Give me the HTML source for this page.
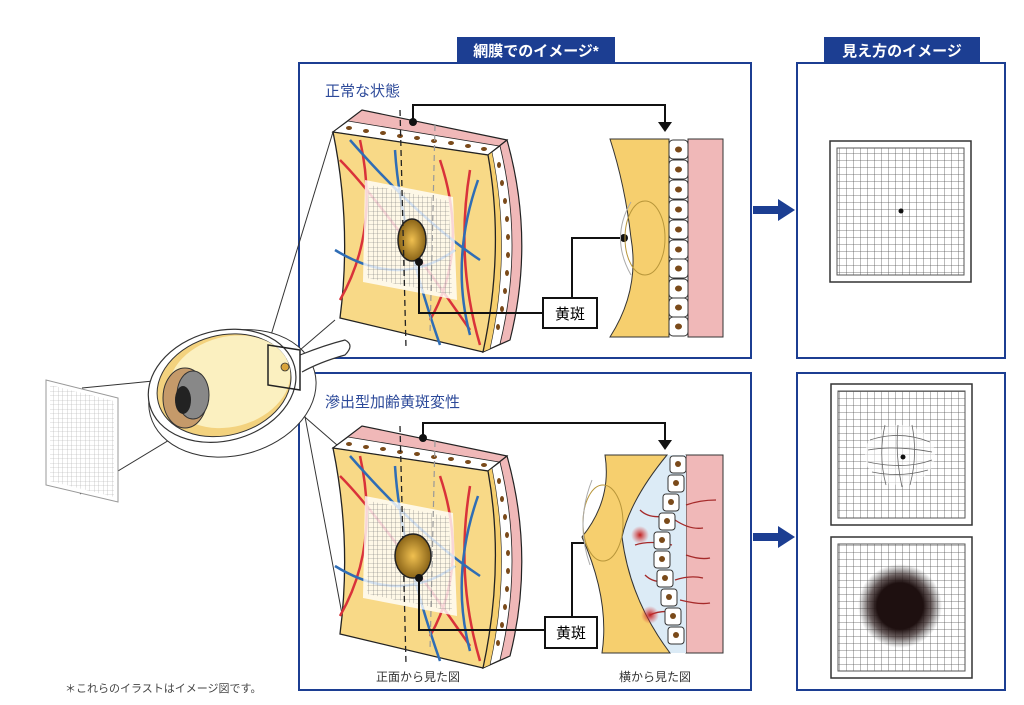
<!DOCTYPE html>
<html><head><meta charset="utf-8"><style>
html,body{margin:0;padding:0;background:#fff;width:1024px;height:705px;overflow:hidden}
svg{display:block}
text{font-family:"Liberation Sans","Noto Sans CJK JP",sans-serif}
</style></head><body>
<svg width="1024" height="705" viewBox="0 0 1024 705" xmlns="http://www.w3.org/2000/svg">
<defs>
<pattern id="g" width="7" height="7" patternUnits="userSpaceOnUse"><path d="M7 0V7M0 7H7" stroke="#555" stroke-width="0.8" fill="none"/></pattern>
<pattern id="gs" width="4.5" height="4.5" patternUnits="userSpaceOnUse"><path d="M4.5 0V4.5M0 4.5H4.5" stroke="#777" stroke-width="0.6" fill="none"/></pattern>
<radialGradient id="mac"><stop offset="0" stop-color="#f0c050"/><stop offset="1" stop-color="#8a6418"/></radialGradient>
<radialGradient id="blob"><stop offset="0.55" stop-color="#1e1010"/><stop offset="0.75" stop-color="#2a1a1a" stop-opacity="0.7"/><stop offset="1" stop-color="#333" stop-opacity="0"/></radialGradient>
<radialGradient id="bl"><stop offset="0" stop-color="#c02020"/><stop offset="1" stop-color="#e04040" stop-opacity="0"/></radialGradient>
<g id="block">
 <polygon points="333,132 362,110 507,140 488,155" fill="#f0b8b8" stroke="#222" stroke-width="1.2"/>
 <polygon points="333,132 348,121 499,146 488,155" fill="#fff" stroke="#222" stroke-width="0.8"/>
 <g fill="#7a4a1a">
  <ellipse cx="349" cy="128" rx="3" ry="2"/><ellipse cx="366" cy="131" rx="3" ry="2"/><ellipse cx="383" cy="133" rx="3" ry="2"/><ellipse cx="400" cy="136" rx="3" ry="2"/><ellipse cx="417" cy="138" rx="3" ry="2"/><ellipse cx="434" cy="141" rx="3" ry="2"/><ellipse cx="451" cy="143" rx="3" ry="2"/><ellipse cx="468" cy="146" rx="3" ry="2"/><ellipse cx="484" cy="149" rx="3" ry="2"/>
 </g>
 <path d="M488,155 L507,140 Q535,240 510,340 L483,352 Q505,250 488,155Z" fill="#f0b8b8" stroke="#222" stroke-width="1.2"/>
 <path d="M488,155 L500,146 Q524,245 500,344 L483,352 Q505,250 488,155Z" fill="#fff" stroke="#222" stroke-width="0.8"/>
 <path d="M488,155 L492,152 Q512,250 490,349 L483,352 Q505,250 488,155Z" fill="#f6cf6e" stroke="#222" stroke-width="0.6"/>
 <g fill="#7a4a1a">
  <ellipse cx="499" cy="165" rx="2" ry="3"/><ellipse cx="502" cy="183" rx="2" ry="3"/><ellipse cx="505" cy="201" rx="2" ry="3"/><ellipse cx="507" cy="219" rx="2" ry="3"/><ellipse cx="508" cy="237" rx="2" ry="3"/><ellipse cx="508" cy="255" rx="2" ry="3"/><ellipse cx="507" cy="273" rx="2" ry="3"/><ellipse cx="505" cy="291" rx="2" ry="3"/><ellipse cx="502" cy="309" rx="2" ry="3"/><ellipse cx="498" cy="327" rx="2" ry="3"/>
 </g>
 <path d="M333,132 L488,155 Q505,250 483,352 L340,318 Q352,225 333,132Z" fill="#f8d987" stroke="#222" stroke-width="1.3"/>
 <path d="M340,160 Q380,200 470,330 M360,140 Q380,230 340,300 M470,170 Q455,260 480,345 M440,160 Q470,250 430,320" stroke="#d9323a" stroke-width="2.5" fill="none"/>
 <path d="M350,140 Q420,220 480,260 M395,150 Q400,230 440,345 M478,180 Q450,260 470,335 M335,250 Q400,290 455,250" stroke="#2f6db5" stroke-width="2.5" fill="none"/>
 <polygon points="365,180 453,197 457,300 363,282" fill="#fff" opacity="0.8"/>
 <polygon points="369,185 449,201 452,295 367,278" fill="url(#gs)"/>
 <ellipse cx="412" cy="240" rx="14" ry="21" fill="url(#mac)" stroke="#222" stroke-width="1.5"/>
 <path d="M400,110 L406,348" stroke="#222" stroke-width="1.3" stroke-dasharray="6,4"/>
 <path d="M435,125 L430,335" stroke="#999" stroke-width="1.2" stroke-dasharray="6,4"/>
</g>
</defs>

<rect x="457" y="37" width="158" height="26" fill="#1c3e92"/>
<text x="536" y="56" fill="#fff" font-size="15" font-weight="bold" text-anchor="middle">網膜でのイメージ*</text>
<rect x="824" y="37" width="156" height="26" fill="#1c3e92"/>
<text x="902" y="56" fill="#fff" font-size="15" font-weight="bold" text-anchor="middle">見え方のイメージ</text>

<rect x="299" y="63" width="452" height="295" fill="none" stroke="#1c3e92" stroke-width="2"/>
<rect x="299" y="373" width="452" height="317" fill="none" stroke="#1c3e92" stroke-width="2"/>
<rect x="797" y="63" width="208" height="295" fill="none" stroke="#1c3e92" stroke-width="2"/>
<rect x="797" y="373" width="208" height="317" fill="none" stroke="#1c3e92" stroke-width="2"/>

<text x="325" y="96" fill="#2d4a9a" font-size="15">正常な状態</text>
<text x="325" y="407" fill="#2d4a9a" font-size="15">滲出型加齢黄斑変性</text>

<path d="M753,206 H778 V199 L795,210 L778,221 V214 H753Z" fill="#1c3e92"/>
<path d="M753,533 H778 V526 L795,537 L778,548 V541 H753Z" fill="#1c3e92"/>

<g stroke="#333" stroke-width="1" fill="none">
<line x1="268" y1="345" x2="333" y2="132"/>
<line x1="300" y1="350" x2="335" y2="320"/>
<line x1="268" y1="385" x2="337" y2="445"/>
<line x1="300" y1="390" x2="345" y2="630"/>
<line x1="82" y1="388" x2="285" y2="368"/>
<line x1="80" y1="494" x2="285" y2="370"/>
</g>

<polygon points="46,380 118,398 118,502 46,485" fill="#fff" stroke="#999" stroke-width="1"/>
<polygon points="50,385 114,401 114,497 50,481" fill="url(#gs)" opacity="0.6"/>

<g transform="rotate(-15 225 385)">
<ellipse cx="230" cy="395" rx="85" ry="62" fill="#fff" stroke="#333" stroke-width="1"/>
<ellipse cx="222" cy="385" rx="75" ry="55" fill="#fff" stroke="#333" stroke-width="1.2"/>
<ellipse cx="224" cy="385" rx="68" ry="50" fill="#f3d27e" stroke="#333" stroke-width="1"/>
<ellipse cx="230" cy="383" rx="62" ry="45" fill="#fbf0c0"/>
</g>
<path d="M300,355 Q325,345 345,340 Q355,345 345,355 Q320,362 302,372" fill="#fff" stroke="#333" stroke-width="1.2"/>
<ellipse cx="185" cy="398" rx="22" ry="30" fill="#c59a6a" stroke="#333"/>
<ellipse cx="193" cy="395" rx="16" ry="24" fill="#888" stroke="#333"/>
<ellipse cx="183" cy="400" rx="8" ry="14" fill="#222"/>
<polygon points="268,345 300,350 300,390 268,385" fill="none" stroke="#222" stroke-width="1.5"/>
<circle cx="285" cy="367" r="4" fill="#d9a43a" stroke="#333" stroke-width="0.8"/>

<use href="#block"/>
<use href="#block" transform="translate(0,316)"/>
<ellipse cx="413" cy="556" rx="18" ry="22" fill="url(#mac)" stroke="#222" stroke-width="1.5"/>

<g stroke="#111" stroke-width="2" fill="none">
<path d="M413,122 V105 H665 V122"/>
<path d="M419,262 V313 H543"/>
<path d="M572,298 V238 H624"/>
<path d="M423,438 V423 H665 V440"/>
<path d="M419,578 V630 H545"/>
<path d="M572,617 V543 H616"/>
</g>
<polygon points="658,122 672,122 665,132" fill="#111"/>
<polygon points="658,440 672,440 665,450" fill="#111"/>
<circle cx="413" cy="122" r="4" fill="#111"/><circle cx="419" cy="262" r="4" fill="#111"/><circle cx="624" cy="238" r="4" fill="#111"/>
<circle cx="423" cy="438" r="4" fill="#111"/><circle cx="419" cy="578" r="4" fill="#111"/><circle cx="616" cy="543" r="4" fill="#111"/>
<rect x="543" y="298" width="54" height="30" fill="#fff" stroke="#111" stroke-width="2"/>
<text x="570" y="319" font-size="15" text-anchor="middle">黄斑</text>
<rect x="545" y="617" width="52" height="31" fill="#fff" stroke="#111" stroke-width="2"/>
<text x="571" y="638" font-size="15" text-anchor="middle">黄斑</text>

<rect x="688" y="139" width="35" height="198" fill="#f0b8b8" stroke="#333"/>
<path d="M610,139 H669 V337 H610 Q640,290 631,238 Q625,185 610,139Z" fill="#f6cf6e" stroke="#333"/>
<ellipse cx="645" cy="238" rx="20" ry="37" fill="none" stroke="#b8963a" stroke-width="1"/>
<path d="M631,202 Q610,238 631,275" fill="none" stroke="#aaa"/>
<g id="cells">
<rect x="669" y="140" width="19" height="19" rx="4" fill="#fff" stroke="#333"/>
<ellipse cx="678.5" cy="149.5" rx="3.5" ry="3" fill="#7a4a1a"/>
</g>
<use href="#cells" y="20"/><use href="#cells" y="40"/><use href="#cells" y="60"/><use href="#cells" y="80"/><use href="#cells" y="100"/><use href="#cells" y="119"/><use href="#cells" y="139"/><use href="#cells" y="158"/><use href="#cells" y="177"/>

<rect x="686" y="455" width="37" height="198" fill="#f0b8b8" stroke="#333"/>
<path d="M667,455 Q630,500 622,537 Q630,600 670,653 H686 V455Z" fill="#dcebf6"/>
<path d="M605,455 H667 Q630,500 622,537 Q630,600 670,653 H602 Q610,600 582,537 Q612,500 605,455Z" fill="#f6cf6e" stroke="#333"/>
<ellipse cx="603" cy="523" rx="20" ry="38" fill="none" stroke="#b8963a"/>
<path d="M592,480 Q575,523 590,565" fill="none" stroke="#aaa"/>
<g stroke="#a52a2a" stroke-width="1.3" fill="none">
<path d="M686,505 Q700,500 716,500 M675,520 Q690,530 703,528 M686,555 Q700,560 710,558 M675,580 Q690,575 703,578 M680,600 Q700,605 710,603"/>
<path d="M640,510 Q650,520 670,515 M635,545 Q650,540 672,545 M645,575 Q655,585 672,580 M650,615 Q660,610 675,612"/>
</g>
<circle cx="640" cy="535" r="9" fill="url(#bl)"/><circle cx="650" cy="615" r="9" fill="url(#bl)"/>
<g fill="#fff" stroke="#333">
<rect x="670" y="456" width="16" height="17" rx="3"/>
<rect x="668" y="475" width="16" height="17" rx="3"/>
<rect x="663" y="494" width="16" height="17" rx="3"/>
<rect x="659" y="513" width="16" height="17" rx="3"/>
<rect x="654" y="532" width="16" height="17" rx="3"/>
<rect x="654" y="551" width="16" height="17" rx="3"/>
<rect x="657" y="570" width="16" height="17" rx="3"/>
<rect x="661" y="589" width="16" height="17" rx="3"/>
<rect x="665" y="608" width="16" height="17" rx="3"/>
<rect x="668" y="627" width="16" height="17" rx="3"/>
</g>
<g fill="#7a4a1a">
<circle cx="678" cy="464" r="3"/><circle cx="676" cy="483" r="3"/><circle cx="671" cy="502" r="3"/><circle cx="667" cy="521" r="3"/><circle cx="662" cy="540" r="3"/><circle cx="662" cy="559" r="3"/><circle cx="665" cy="578" r="3"/><circle cx="669" cy="597" r="3"/><circle cx="673" cy="616" r="3"/><circle cx="676" cy="635" r="3"/>
</g>

<text x="418" y="681" font-size="12" text-anchor="middle" fill="#333">正面から見た図</text>
<text x="655" y="681" font-size="12" text-anchor="middle" fill="#333">横から見た図</text>
<text x="65" y="692" font-size="11" fill="#444">＊これらのイラストはイメージ図です。</text>

<rect x="830" y="141" width="141" height="141" fill="#fff" stroke="#333" stroke-width="1.5"/>
<rect x="837" y="148" width="127" height="127" fill="url(#g)" stroke="#555"/>
<circle cx="901" cy="211" r="2.5" fill="#111"/>
<rect x="831" y="384" width="141" height="141" fill="#fff" stroke="#333" stroke-width="1.5"/>
<rect x="838" y="391" width="127" height="127" fill="url(#g)" stroke="#555"/>
<ellipse cx="900" cy="455" rx="35" ry="30" fill="#fff" opacity="0.55"/>
<g stroke="#666" stroke-width="0.8" fill="none">
<path d="M870,440 Q900,430 930,442 M868,450 Q895,445 932,452 M868,462 Q905,470 932,460 M872,472 Q900,478 928,470"/>
<path d="M885,425 Q878,455 886,485 M898,425 Q895,455 902,487 M912,425 Q918,455 910,485"/>
</g>
<circle cx="903" cy="457" r="2.5" fill="#111"/>
<rect x="831" y="537" width="141" height="141" fill="#fff" stroke="#333" stroke-width="1.5"/>
<rect x="838" y="544" width="127" height="127" fill="url(#g)" stroke="#555"/>
<circle cx="900" cy="606" r="42" fill="url(#blob)"/>
</svg>
</body></html>
